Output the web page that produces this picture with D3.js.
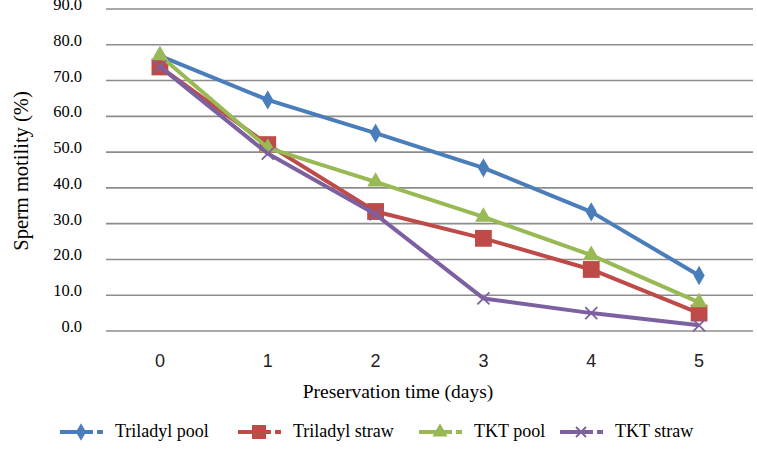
<!DOCTYPE html>
<html>
<head>
<meta charset="utf-8">
<script src="https://cdn.jsdelivr.net/npm/d3@7"></script>
<style>
  body { margin: 0; background: #fff; }
  svg { display: block; }
  .serif { font-family: 'Liberation Serif', 'DejaVu Serif', serif; }
  .sans { font-family: 'Liberation Sans', Arial, sans-serif; }
</style>
</head>
<body>
<svg id="chart" width="757" height="467"></svg>
<script>
// values
var days = [0, 1, 2, 3, 4, 5];
var triladylPool = [76.9, 64.6, 55.3, 45.6, 33.3, 15.5];
var triladylStraw = [73.8, 52.1, 33.4, 25.9, 17.2, 5.0];
var tktPool = [77.0, 51.2, 41.7, 31.9, 21.2, 8.0];
var tktStraw = [73.9, 49.6, 32.6, 9.1, 5.0, 1.6];
var yTicks = [0, 10, 20, 30, 40, 50, 60, 70, 80, 90];

var series = [
  {name: 'Triladyl pool', values: triladylPool, color: '#4a7ebb', shape: 'diamond'},
  {name: 'Triladyl straw', values: triladylStraw, color: '#be4b48', shape: 'square'},
  {name: 'TKT pool', values: tktPool, color: '#98b954', shape: 'triangle'},
  {name: 'TKT straw', values: tktStraw, color: '#7d60a0', shape: 'cross'}
];

var svg = d3.select('#chart');
var plotL = 106, plotR = 753, plotT = 9, plotB = 331;

var x = d3.scaleBand().domain(days).range([plotL, plotR]);
var y = d3.scaleLinear().domain([0, 90]).range([plotB, plotT]);

// gridlines
svg.append('g').selectAll('line')
  .data(yTicks)
  .join('line')
  .attr('x1', plotL).attr('x2', plotR)
  .attr('y1', function(d){ return y(d); })
  .attr('y2', function(d){ return y(d); })
  .attr('stroke', '#8c8c8c')
  .attr('stroke-width', 1.6);

// y labels
svg.append('g').selectAll('text')
  .data(yTicks)
  .join('text')
  .attr('class', 'serif')
  .attr('x', 82)
  .attr('y', function(d){ return y(d) + 1; })
  .attr('text-anchor', 'end')
  .attr('font-size', 16.5)
  .text(function(d){ return d.toFixed(1); });

// x labels
svg.append('g').selectAll('text')
  .data(days)
  .join('text')
  .attr('class', 'sans')
  .attr('x', function(d){ return x(d) + x.bandwidth() / 2; })
  .attr('y', 367)
  .attr('text-anchor', 'middle')
  .attr('font-size', 18)
  .attr('fill', '#222')
  .text(function(d){ return d; });

svg.append('text')
  .attr('class', 'serif')
  .attr('x', 398).attr('y', 398)
  .attr('text-anchor', 'middle')
  .attr('font-size', 19.5)
  .text('Preservation time (days)');

svg.append('text')
  .attr('class', 'serif')
  .attr('transform', 'translate(28,171) rotate(-90)')
  .attr('text-anchor', 'middle')
  .attr('font-size', 20.5)
  .text('Sperm motility (%)');

function marker(sel, s, size) {
  if (s.shape === 'diamond') {
    sel.append('path')
      .attr('d', d3.symbol(d3.symbolDiamond, size * 9)())
      .attr('fill', s.color);
  } else if (s.shape === 'square') {
    sel.append('rect')
      .attr('x', -size * 0.7).attr('y', -size * 0.7)
      .attr('width', size * 1.4).attr('height', size * 1.4)
      .attr('fill', s.color);
  } else if (s.shape === 'triangle') {
    sel.append('path')
      .attr('d', d3.symbol(d3.symbolTriangle, size * 10)())
      .attr('fill', s.color);
  } else {
    sel.append('path')
      .attr('d', 'M' + (-size/2) + ',' + (-size/2) + 'L' + (size/2) + ',' + (size/2) +
                 'M' + (size/2) + ',' + (-size/2) + 'L' + (-size/2) + ',' + (size/2))
      .attr('stroke', s.color)
      .attr('stroke-width', 1.8)
      .attr('fill', 'none');
  }
}

var line = d3.line()
  .x(function(d, i){ return x(days[i]) + x.bandwidth() / 2; })
  .y(function(d){ return y(d); });

series.forEach(function(s){
  var g = svg.append('g');
  g.append('path')
    .attr('d', line(s.values))
    .attr('fill', 'none')
    .attr('stroke', s.color)
    .attr('stroke-width', 4)
    .attr('stroke-linejoin', 'round');
  s.values.forEach(function(v, i){
    var m = g.append('g')
      .attr('transform', 'translate(' + (x(days[i]) + x.bandwidth() / 2) + ',' + y(v) + ')');
    marker(m, s, 12);
  });
});

// legend
var legendX = [60, 238, 419, 560];
series.forEach(function(s, i){
  var lg = svg.append('g').attr('transform', 'translate(' + legendX[i] + ',432)');
  lg.append('line').attr('x1', 0).attr('x2', 33).attr('y1', 0).attr('y2', 0)
    .attr('stroke', s.color).attr('stroke-width', 4);
  lg.append('line').attr('x1', 37).attr('x2', 43).attr('y1', 0).attr('y2', 0)
    .attr('stroke', s.color).attr('stroke-width', 4);
  var m = lg.append('g').attr('transform', 'translate(21,0)');
  marker(m, s, 10);
  lg.append('text')
    .attr('class', 'serif')
    .attr('x', 55).attr('y', 5)
    .attr('font-size', 18)
    .text(s.name);
});
</script>
</body>
</html>
